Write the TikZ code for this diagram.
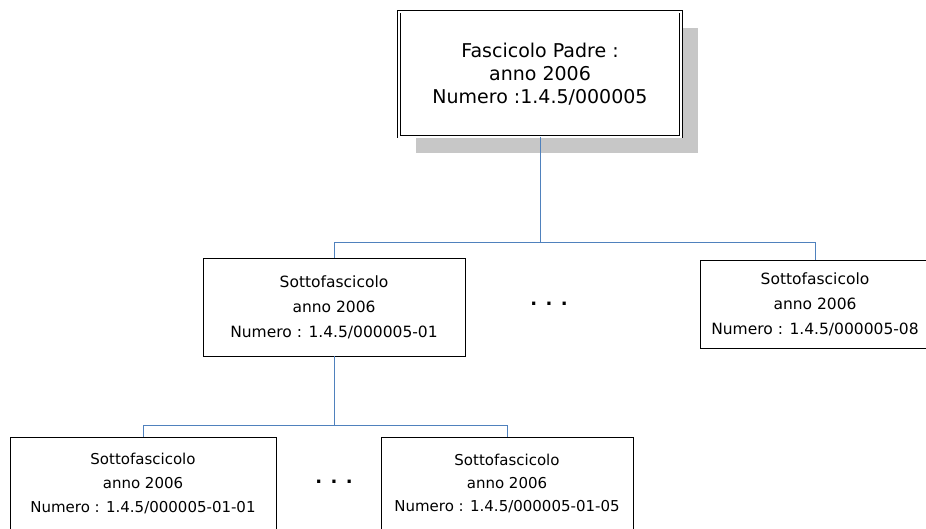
\documentclass[tikz,border=0pt]{standalone}
\usepackage{fontspec}
\setmainfont{DejaVu Sans}
\usetikzlibrary{positioning, shadows}

\definecolor{linkblue}{RGB}{79,129,189}

\begin{document}
\begin{tikzpicture}[x=1pt, y=-1pt, on grid,
    fasc/.style={draw, line width=0.8pt, fill=white, align=center, inner sep=0pt},
    padre/.style={fasc, double, double distance=2pt, minimum width=282pt, minimum height=125pt,
        font=\fontsize{19}{23}\selectfont,
        drop shadow={shadow xshift=16.5pt, shadow yshift=-16.5pt, fill=black!22, opacity=1}},
    sotto/.style={fasc, font=\fontsize{15.5}{25}\selectfont},
    link/.style={draw=linkblue, line width=1pt},
    puntini/.style={font=\fontsize{18}{18}\bfseries}]
    \useasboundingbox (0,0) rectangle (926,528);

    \node[padre] (padre) at (540,74) {Fascicolo Padre :\\ anno 2006\\ Numero :1.4.5/000005};
    \node[sotto, minimum width=262pt, minimum height=98pt] (sub01) [below left=233pt and 206pt of padre]
        {Sottofascicolo\\ anno 2006\\ Numero : 1.4.5/000005-01};
    \node[sotto, minimum width=230pt, minimum height=88pt] (sub08) [below right=230pt and 275pt of padre]
        {Sottofascicolo\\ anno 2006\\ Numero : 1.4.5/000005-08};
    \node[sotto, minimum width=266pt, minimum height=92pt, font=\fontsize{15}{24}\selectfont] (sub0101)
        [below left=176pt and 191pt of sub01] {Sottofascicolo\\ anno 2006\\ Numero : 1.4.5/000005-01-01};
    \node[sotto, minimum width=252pt, minimum height=92pt, font=\fontsize{15}{23}\selectfont] (sub0105)
        [below right=176pt and 173pt of sub01] {Sottofascicolo\\ anno 2006\\ Numero : 1.4.5/000005-01-05};

    \node[puntini] (dotsA) [above right=3pt and 215pt of sub01] {. . .};
    \node[puntini] (dotsB) [below=175pt of sub01] {. . .};

    \coordinate[below=168pt of padre] (bus1);
    \coordinate[below=118pt of sub01] (bus2);

    \path[link]
    (padre) -- (bus1)
    (bus1) -| (sub01)
    (bus1) -| (sub08)
    (sub01) -- (bus2)
    (bus2) -| (sub0101)
    (bus2) -| (sub0105);
\end{tikzpicture}
\end{document}
